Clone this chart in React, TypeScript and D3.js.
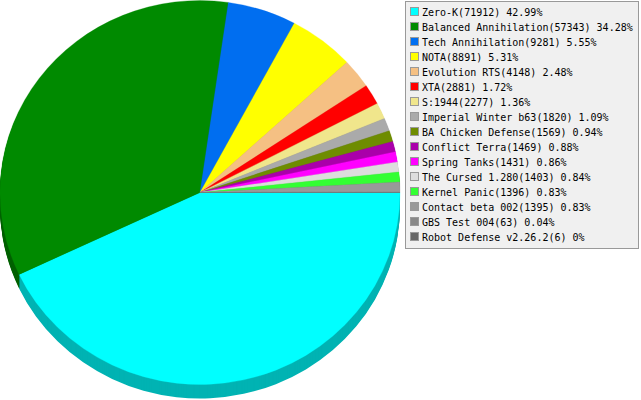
import React from 'react';
import * as d3 from 'd3';

// slice data, in chart order (starts at 3 o'clock, goes clockwise)
const games = [
  'Zero-K', 'Balanced Annihilation', 'Tech Annihilation', 'NOTA', 'Evolution RTS',
  'XTA', 'S:1944', 'Imperial Winter b63', 'BA Chicken Defense', 'Conflict Terra',
  'Spring Tanks', 'The Cursed 1.280', 'Kernel Panic', 'Contact beta 002',
  'GBS Test 004', 'Robot Defense v2.26.2',
];
const players = [71912, 57343, 9281, 8891, 4148, 2881, 2277, 1820, 1569, 1469, 1431, 1403, 1396, 1395, 63, 6];
const shares = ['42.99%', '34.28%', '5.55%', '5.31%', '2.48%', '1.72%', '1.36%', '1.09%', '0.94%', '0.88%', '0.86%', '0.84%', '0.83%', '0.83%', '0.04%', '0%'];

const palette = [
  '#00ffff', '#008a00', '#006ef0', '#ffff00', '#f5c083', '#ff0000', '#f0e68c', '#aaaaaa',
  '#6e8c00', '#aa00aa', '#ff00ff', '#dddddd', '#33ff33', '#999999', '#888888', '#666666',
];

const W = 641;
const H = 400;

export default function App() {
  const cx = 200;
  const cy = 192.5;
  const rx = 200;
  const ry = 192;
  const depth = 14;

  const pie = d3.pie<number>()
    .sort(null)
    .startAngle(Math.PI / 2)
    .endAngle(Math.PI / 2 + 2 * Math.PI)(players);

  const arc = d3.arc<d3.PieArcDatum<number>>().innerRadius(0).outerRadius(rx);
  const sy = ry / rx;

  // side wall: stacked darker copies of the pie
  const layers = d3.range(depth, 0, -1);

  const rowY = d3.scaleLinear().domain([0, games.length - 1]).range([11.5, 236.5]);

  return (
    <svg width={W} height={H} style={{ position: 'absolute', left: 0, top: 0 }}>
      <rect width={W} height={H} fill="#ffffff" />
      {layers.map(k => (
        <g key={k} transform={`translate(${cx},${cy + k}) scale(1,${sy})`}>
          {pie.map((d, i) => (
            <path key={i} d={arc(d) || ''} fill={d3.color(palette[i])!.darker(1).formatHex()} />
          ))}
        </g>
      ))}
      <g transform={`translate(${cx},${cy}) scale(1,${sy})`}>
        {pie.map((d, i) => (
          <path key={i} d={arc(d) || ''} fill={palette[i]} stroke={palette[i]} strokeWidth={0.3} />
        ))}
      </g>

      <g>
        <rect x={405.5} y={1.5} width={233} height={247} fill="#f0f0f0" stroke="#999999" />
        {games.map((g, i) => (
          <g key={g} transform={`translate(0,${rowY(i)})`}>
            <rect x={410.5} y={-4} width={8} height={8} fill={palette[i]} stroke="#999999" />
            <text x={422} y={4} fontFamily="'DejaVu Sans Mono', monospace" fontSize={10} fill="#000">
              {`${g}(${players[i]}) ${shares[i]}`}
            </text>
          </g>
        ))}
      </g>
    </svg>
  );
}
